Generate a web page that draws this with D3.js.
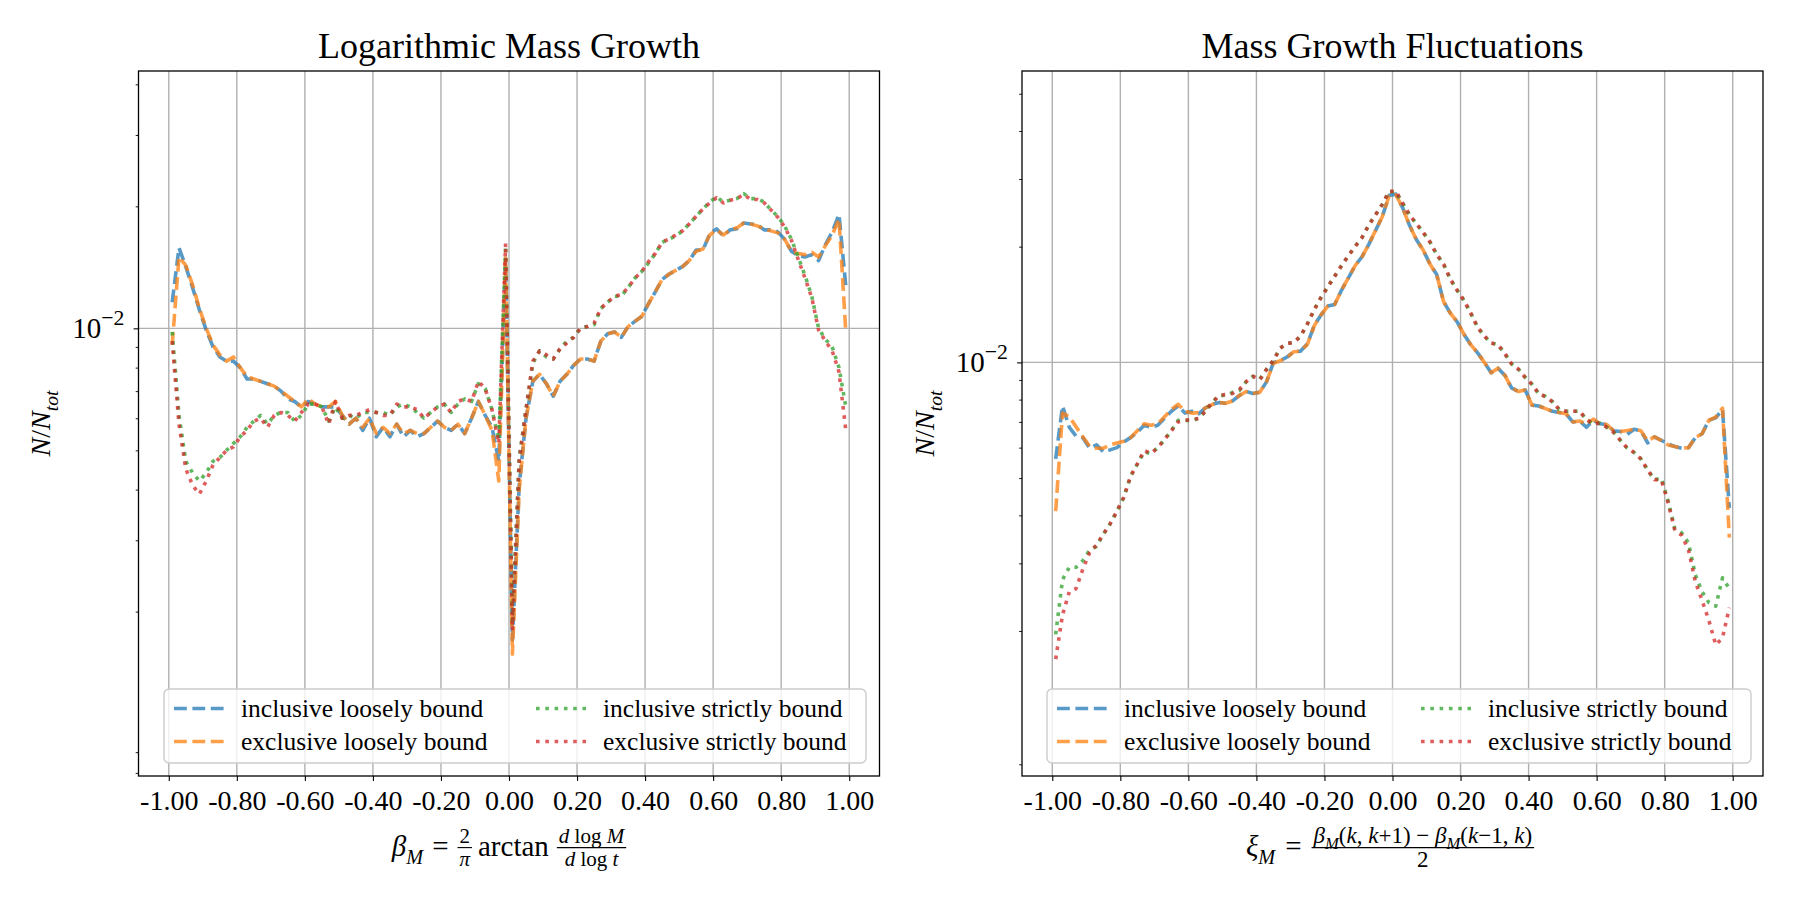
<!DOCTYPE html>
<html>
<head>
<meta charset="utf-8">
<script src="https://cdn.jsdelivr.net/npm/d3@7"></script>
<style>
  body { margin: 0; background: #fff; }
  svg text { font-family: "Liberation Serif", "DejaVu Serif", serif; fill: #000; }
</style>
</head>
<body>
<svg id="chart" width="1800" height="900"></svg>
<script>
// ---- data ----
const bins = [
  -0.99, -0.97, -0.95, -0.93, -0.91, -0.89, -0.87, -0.85, -0.83, -0.81,
  -0.79, -0.77, -0.75, -0.73, -0.71, -0.69, -0.67, -0.65, -0.63, -0.61,
  -0.59, -0.57, -0.55, -0.53, -0.51, -0.49, -0.47, -0.45, -0.43, -0.41,
  -0.39, -0.37, -0.35, -0.33, -0.31, -0.29, -0.27, -0.25, -0.23, -0.21,
  -0.19, -0.17, -0.15, -0.13, -0.11, -0.09, -0.07, -0.05, -0.03, -0.01,
  0.01, 0.03, 0.05, 0.07, 0.09, 0.11, 0.13, 0.15, 0.17, 0.19,
  0.21, 0.23, 0.25, 0.27, 0.29, 0.31, 0.33, 0.35, 0.37, 0.39,
  0.41, 0.43, 0.45, 0.47, 0.49, 0.51, 0.53, 0.55, 0.57, 0.59,
  0.61, 0.63, 0.65, 0.67, 0.69, 0.71, 0.73, 0.75, 0.77, 0.79,
  0.81, 0.83, 0.85, 0.87, 0.89, 0.91, 0.93, 0.95, 0.97, 0.99
];

const seriesNames = [
  "inclusive loosely bound", "exclusive loosely bound",
  "inclusive strictly bound", "exclusive strictly bound"
];

// left panel: logarithmic mass growth
const growthInclLoose = [
  0.0116, 0.0158, 0.0142, 0.0126, 0.0111, 0.0099, 0.0090, 0.0085, 0.0083, 0.0083,
  0.0080, 0.0075, 0.0075, 0.0074, 0.0073, 0.0072, 0.0070, 0.0067, 0.0066, 0.0064,
  0.0066, 0.0065, 0.0064, 0.0064, 0.0064, 0.0061, 0.0058, 0.0060, 0.0056, 0.0060,
  0.0054, 0.0057, 0.0054, 0.0058, 0.0054, 0.0056, 0.0054, 0.0055, 0.0057, 0.0059,
  0.0057, 0.0056, 0.0058, 0.0055, 0.0060, 0.0066, 0.0061, 0.0057, 0.0047, 0.0146,
  0.0017, 0.0041, 0.0060, 0.0074, 0.0077, 0.0073, 0.0068, 0.0074, 0.0077, 0.0081,
  0.0084, 0.0084, 0.0083, 0.0093, 0.0097, 0.0098, 0.0095, 0.0101, 0.0104, 0.0107,
  0.0115, 0.0123, 0.0132, 0.0136, 0.0139, 0.0142, 0.0147, 0.0156, 0.0156, 0.0171,
  0.0176, 0.0169, 0.0175, 0.0176, 0.0182, 0.0181, 0.0180, 0.0175, 0.0175, 0.0173,
  0.0166, 0.0155, 0.0151, 0.0150, 0.0152, 0.0147, 0.0161, 0.0173, 0.0191, 0.0127
];
const growthExclLoose = [
  0.0091, 0.0150, 0.0143, 0.0128, 0.0112, 0.0100, 0.0091, 0.0086, 0.0083, 0.0085,
  0.0080, 0.0076, 0.0075, 0.0074, 0.0073, 0.0072, 0.0070, 0.0068, 0.0066, 0.0064,
  0.0067, 0.0065, 0.0064, 0.0064, 0.0066, 0.0061, 0.0058, 0.0060, 0.0057, 0.0060,
  0.0055, 0.0057, 0.0055, 0.0058, 0.0055, 0.0056, 0.0055, 0.0055, 0.0057, 0.0059,
  0.0057, 0.0056, 0.0058, 0.0055, 0.0060, 0.0066, 0.0061, 0.0056, 0.0042, 0.0149,
  0.00157, 0.0040, 0.0060, 0.0074, 0.0077, 0.0073, 0.0068, 0.0074, 0.0077, 0.0081,
  0.0084, 0.0084, 0.0083, 0.0093, 0.0097, 0.0098, 0.0095, 0.0101, 0.0104, 0.0107,
  0.0115, 0.0123, 0.0132, 0.0136, 0.0139, 0.0142, 0.0147, 0.0155, 0.0157, 0.0170,
  0.0175, 0.0170, 0.0175, 0.0177, 0.0182, 0.0181, 0.0179, 0.0176, 0.0174, 0.0172,
  0.0166, 0.0155, 0.0153, 0.0152, 0.0154, 0.0150, 0.0160, 0.0170, 0.0186, 0.0098
];
const growthInclStrict = [
  0.0098, 0.0061, 0.0047, 0.0044, 0.0042, 0.0044, 0.0047, 0.0048, 0.0050, 0.0052,
  0.0054, 0.0057, 0.0059, 0.0061, 0.0058, 0.0061, 0.0062, 0.0062, 0.0059, 0.0061,
  0.0065, 0.0065, 0.0064, 0.0059, 0.0064, 0.0060, 0.0061, 0.0060, 0.0062, 0.0062,
  0.0062, 0.0062, 0.0061, 0.0064, 0.0065, 0.0064, 0.0062, 0.0060, 0.0062, 0.0064,
  0.0065, 0.0062, 0.0065, 0.0067, 0.0066, 0.0073, 0.0071, 0.0063, 0.0053, 0.0160,
  0.0019, 0.0048, 0.0063, 0.0082, 0.0088, 0.0085, 0.0084, 0.0089, 0.0093, 0.0095,
  0.0100, 0.0101, 0.0102, 0.0112, 0.0116, 0.0120, 0.0120, 0.0126, 0.0133, 0.0138,
  0.0145, 0.0153, 0.0163, 0.0166, 0.0169, 0.0174, 0.0181, 0.0189, 0.0197, 0.0205,
  0.0211, 0.0205, 0.0207, 0.0209, 0.0215, 0.0209, 0.0209, 0.0205, 0.0196, 0.0189,
  0.0179, 0.0166, 0.0150, 0.0135, 0.0120, 0.0100, 0.0094, 0.0090, 0.0080, 0.0064
];
const growthExclStrict = [
  0.0093, 0.0058, 0.0045, 0.0041, 0.0039, 0.0042, 0.0046, 0.0048, 0.0050, 0.0051,
  0.0054, 0.0056, 0.0059, 0.0060, 0.0057, 0.0061, 0.0062, 0.0061, 0.0059, 0.0062,
  0.0065, 0.0065, 0.0064, 0.0058, 0.0066, 0.0060, 0.0061, 0.0061, 0.0062, 0.0063,
  0.0062, 0.0061, 0.0061, 0.0065, 0.0064, 0.0064, 0.0063, 0.0060, 0.0062, 0.0064,
  0.0065, 0.0062, 0.0066, 0.0067, 0.0066, 0.0074, 0.0071, 0.0063, 0.0052, 0.0162,
  0.0018, 0.0047, 0.0063, 0.0083, 0.0088, 0.0086, 0.0084, 0.0089, 0.0092, 0.0095,
  0.0100, 0.0101, 0.0103, 0.0112, 0.0116, 0.0120, 0.0121, 0.0126, 0.0133, 0.0138,
  0.0146, 0.0153, 0.0163, 0.0166, 0.0170, 0.0174, 0.0181, 0.0189, 0.0197, 0.0204,
  0.0210, 0.0204, 0.0207, 0.0209, 0.0214, 0.0208, 0.0208, 0.0204, 0.0196, 0.0188,
  0.0178, 0.0165, 0.0148, 0.0133, 0.0119, 0.0099, 0.0093, 0.0088, 0.0078, 0.0056
];

// right panel: mass growth fluctuations
const flucInclLoose = [
  0.00561, 0.00770, 0.00678, 0.00643, 0.00637, 0.00598, 0.00610, 0.00585, 0.00592, 0.00600,
  0.00621, 0.00637, 0.00658, 0.00686, 0.00678, 0.00686, 0.00715, 0.00746, 0.00770, 0.00738,
  0.00746, 0.00735, 0.00761, 0.00777, 0.00786, 0.00783, 0.00794, 0.00820, 0.00840, 0.00830,
  0.00836, 0.00891, 0.01000, 0.01010, 0.01033, 0.01066, 0.01070, 0.01118, 0.01248, 0.01329,
  0.01401, 0.01414, 0.01540, 0.01657, 0.01784, 0.01880, 0.02025, 0.02202, 0.02394, 0.02720,
  0.02740, 0.02523, 0.02273, 0.02088, 0.01961, 0.01803, 0.01692, 0.01440, 0.01343, 0.01275,
  0.01184, 0.01112, 0.01059, 0.01000, 0.00940, 0.00966, 0.00926, 0.00858, 0.00840, 0.00848,
  0.00774, 0.00770, 0.00758, 0.00746, 0.00741, 0.00735, 0.00700, 0.00704, 0.00678, 0.00707,
  0.00692, 0.00689, 0.00664, 0.00661, 0.00650, 0.00670, 0.00664, 0.00617, 0.00640, 0.00627,
  0.00613, 0.00604, 0.00598, 0.00600, 0.00637, 0.00652, 0.00707, 0.00717, 0.00754, 0.00418
];
const flucExclLoose = [
  0.00410, 0.00738, 0.00722, 0.00680, 0.00640, 0.00605, 0.00598, 0.00598, 0.00610, 0.00617,
  0.00623, 0.00637, 0.00664, 0.00692, 0.00686, 0.00692, 0.00722, 0.00754, 0.00778, 0.00746,
  0.00738, 0.00740, 0.00761, 0.00777, 0.00786, 0.00783, 0.00794, 0.00820, 0.00840, 0.00830,
  0.00836, 0.00891, 0.00995, 0.01010, 0.01030, 0.01066, 0.01070, 0.01115, 0.01245, 0.01329,
  0.01401, 0.01414, 0.01540, 0.01657, 0.01784, 0.01880, 0.02025, 0.02202, 0.02394, 0.02710,
  0.02730, 0.02523, 0.02273, 0.02088, 0.01961, 0.01803, 0.01692, 0.01440, 0.01343, 0.01275,
  0.01184, 0.01112, 0.01059, 0.01000, 0.00940, 0.00966, 0.00926, 0.00858, 0.00840, 0.00848,
  0.00774, 0.00770, 0.00758, 0.00746, 0.00741, 0.00735, 0.00700, 0.00704, 0.00690, 0.00712,
  0.00692, 0.00689, 0.00664, 0.00661, 0.00665, 0.00670, 0.00664, 0.00625, 0.00640, 0.00627,
  0.00610, 0.00604, 0.00598, 0.00600, 0.00637, 0.00652, 0.00707, 0.00720, 0.00760, 0.00350
];
const flucInclStrict = [
  0.00196, 0.00272, 0.00293, 0.00293, 0.00305, 0.00325, 0.00332, 0.00357, 0.00380, 0.00410,
  0.00445, 0.00505, 0.00544, 0.00585, 0.00579, 0.00600, 0.00630, 0.00664, 0.00707, 0.00707,
  0.00704, 0.00715, 0.00746, 0.00786, 0.00820, 0.00820, 0.00836, 0.00845, 0.00891, 0.00920,
  0.00905, 0.00960, 0.01012, 0.01089, 0.01120, 0.01126, 0.01171, 0.01260, 0.01371, 0.01476,
  0.01573, 0.01675, 0.01784, 0.01892, 0.02003, 0.02110, 0.02273, 0.02420, 0.02577, 0.02786,
  0.02774, 0.02594, 0.02420, 0.02296, 0.02180, 0.02059, 0.01908, 0.01803, 0.01647, 0.01540,
  0.01451, 0.01343, 0.01235, 0.01171, 0.01123, 0.01112, 0.01055, 0.00991, 0.00960, 0.00914,
  0.00877, 0.00828, 0.00815, 0.00790, 0.00754, 0.00746, 0.00746, 0.00746, 0.00710, 0.00692,
  0.00695, 0.00678, 0.00658, 0.00627, 0.00598, 0.00583, 0.00561, 0.00525, 0.00495, 0.00500,
  0.00436, 0.00369, 0.00360, 0.00339, 0.00280, 0.00253, 0.00237, 0.00232, 0.00275, 0.00258
];
const flucExclStrict = [
  0.00169, 0.00220, 0.00253, 0.00258, 0.00290, 0.00320, 0.00335, 0.00357, 0.00380, 0.00410,
  0.00445, 0.00505, 0.00544, 0.00590, 0.00579, 0.00600, 0.00630, 0.00664, 0.00700, 0.00707,
  0.00710, 0.00715, 0.00746, 0.00786, 0.00820, 0.00825, 0.00830, 0.00850, 0.00891, 0.00920,
  0.00900, 0.00960, 0.01012, 0.01089, 0.01120, 0.01126, 0.01171, 0.01260, 0.01371, 0.01476,
  0.01573, 0.01675, 0.01784, 0.01892, 0.02003, 0.02110, 0.02273, 0.02420, 0.02577, 0.02786,
  0.02790, 0.02594, 0.02420, 0.02296, 0.02180, 0.02059, 0.01908, 0.01803, 0.01647, 0.01540,
  0.01451, 0.01343, 0.01235, 0.01171, 0.01123, 0.01112, 0.01055, 0.00991, 0.00960, 0.00914,
  0.00877, 0.00828, 0.00815, 0.00790, 0.00754, 0.00746, 0.00746, 0.00746, 0.00710, 0.00692,
  0.00695, 0.00678, 0.00658, 0.00627, 0.00598, 0.00583, 0.00561, 0.00525, 0.00495, 0.00495,
  0.00432, 0.00365, 0.00355, 0.00325, 0.00269, 0.00240, 0.00213, 0.00184, 0.00192, 0.00230
];

// ticks
const xTicks = [-1, -0.8, -0.6, -0.4, -0.2, 0, 0.2, 0.4, 0.6, 0.8, 1];
const xTickLabels = ["-1.00", "-0.80", "-0.60", "-0.40", "-0.20", "0.00", "0.20", "0.40", "0.60", "0.80", "1.00"];
const yMajorTicks = [0.01];
const yMinorTicks = [0.0008, 0.0009, 0.002, 0.003, 0.004, 0.005, 0.006, 0.007, 0.008, 0.009, 0.02, 0.03, 0.04, 0.05];

// ---- styling ----
const colors = ["#1f77b4", "#ff7f0e", "#2ca02c", "#d62728"];
const dashes = ["12.8,5.6", "12.8,5.6", "3.6,5.7", "3.6,5.7"];
const lineWidth = 3.6;
const lineAlpha = 0.75;

const svg = d3.select("#chart");

// small helper: a text element built from math-like pieces
function richText(parent, parts, size) {
  const t = parent.append("text").attr("font-size", size);
  let shift = 0;
  parts.forEach(p => {
    const target = p.sub ? size * 0.28 : p.sup ? -size * 0.45 : 0;
    t.append("tspan")
      .text(p.s)
      .attr("dy", target - shift)
      .attr("font-size", (p.sub || p.sup) ? size * (p.small || 0.7) : size)
      .attr("font-style", p.it ? "italic" : "normal");
    shift = target;
  });
  return t;
}

// lay out a row of text pieces and fractions, centred on cx, baseline at by
function mathLabel(cx, by, boxes, size) {
  const g = svg.append("g");
  let x = 0;
  boxes.forEach(b => {
    if (b.gap) { x += b.gap; return; }
    if (b.frac) {
      const fs = b.size || size * 0.72;
      const num = richText(g, b.num, fs).attr("text-anchor", "middle");
      const den = richText(g, b.den, fs).attr("text-anchor", "middle");
      const w = Math.max(num.node().getComputedTextLength(), den.node().getComputedTextLength()) + 4;
      const barY = -size * 0.29;
      num.attr("x", x + w / 2).attr("y", barY - 5);
      den.attr("x", x + w / 2).attr("y", barY + fs * 0.72 + 3);
      g.append("line").attr("x1", x).attr("x2", x + w)
        .attr("y1", barY).attr("y2", barY)
        .attr("stroke", "#000").attr("stroke-width", 1.1);
      x += w;
      return;
    }
    const t = richText(g, b.parts, size).attr("x", x).attr("y", 0);
    x += t.node().getComputedTextLength();
  });
  g.attr("transform", `translate(${cx - x / 2},${by})`);
}

function drawPanel(opt) {
  const { x0, x1, y0, y1, yDomain, series, title } = opt;

  const x = d3.scaleLinear().domain([-1.089, 1.089]).range([x0, x1]);
  const y = d3.scaleLog().domain(yDomain).range([y1, y0]);

  const g = svg.append("g");
  const clipId = "clip" + Math.round(x0);
  g.append("clipPath").attr("id", clipId)
    .append("rect").attr("x", x0).attr("y", y0).attr("width", x1 - x0).attr("height", y1 - y0);

  // grid
  g.selectAll(".vgrid").data(xTicks).enter().append("line")
    .attr("x1", d => x(d)).attr("x2", d => x(d))
    .attr("y1", y0).attr("y2", y1)
    .attr("stroke", "#b0b0b0").attr("stroke-width", 1.4);
  g.selectAll(".hgrid").data(yMajorTicks).enter().append("line")
    .attr("x1", x0).attr("x2", x1)
    .attr("y1", d => y(d)).attr("y2", d => y(d))
    .attr("stroke", "#b0b0b0").attr("stroke-width", 1.4);

  // lines
  const line = d3.line().x((d, i) => x(bins[i])).y(d => y(d));
  const lg = g.append("g").attr("clip-path", `url(#${clipId})`);
  series.forEach((s, k) => {
    lg.append("path")
      .datum(s)
      .attr("d", line)
      .attr("fill", "none")
      .attr("stroke", colors[k])
      .attr("stroke-opacity", lineAlpha)
      .attr("stroke-width", lineWidth)
      .attr("stroke-dasharray", dashes[k])
      .attr("stroke-linejoin", "round")
      .attr("stroke-linecap", "butt");
  });

  // x axis
  const xa = g.append("g")
    .attr("transform", `translate(0,${y1})`)
    .call(d3.axisBottom(x).tickValues(xTicks)
      .tickFormat((d, i) => xTickLabels[i]).tickSize(4.9).tickPadding(5));
  xa.select(".domain").remove();
  xa.selectAll("line").attr("stroke", "#000").attr("stroke-width", 1.1);
  xa.selectAll("text").attr("font-size", 28).attr("font-family", "Liberation Serif").attr("dy", "0.85em");

  // y axis minor and major ticks
  const yMinor = g.append("g").attr("transform", `translate(${x0},0)`)
    .call(d3.axisLeft(y).tickValues(yMinorTicks.filter(v => v >= yDomain[0] && v <= yDomain[1]))
      .tickFormat("").tickSize(2.8));
  yMinor.select(".domain").remove();
  yMinor.selectAll("line").attr("stroke", "#000").attr("stroke-width", 0.9);

  const yMajor = g.append("g").attr("transform", `translate(${x0},0)`)
    .call(d3.axisLeft(y).tickValues(yMajorTicks).tickFormat("").tickSize(4.9));
  yMajor.select(".domain").remove();
  yMajor.selectAll("line").attr("stroke", "#000").attr("stroke-width", 1.1);

  yMajorTicks.forEach(v => {
    richText(g, [{ s: "10" }, { s: "\u22122", sup: true, small: 0.75 }], 29)
      .attr("text-anchor", "end")
      .attr("x", x0 - 14)
      .attr("y", y(v) + 10);
  });

  // spines
  g.append("rect")
    .attr("x", x0).attr("y", y0).attr("width", x1 - x0).attr("height", y1 - y0)
    .attr("fill", "none").attr("stroke", "#000").attr("stroke-width", 1.3);

  // title
  g.append("text")
    .attr("x", (x0 + x1) / 2).attr("y", 58)
    .attr("text-anchor", "middle").attr("font-size", 36)
    .text(title);

  // y label
  richText(g, [{ s: "N", it: true }, { s: "/" }, { s: "N", it: true }, { s: "tot", it: true, sub: true }], 28)
    .attr("text-anchor", "middle")
    .attr("transform", `translate(${opt.ylabelX},${(y0 + y1) / 2}) rotate(-90)`);

  // legend
  const lx = opt.legend.x, ly = opt.legend.y;
  const leg = g.append("g").attr("transform", `translate(${lx},${ly})`);
  leg.append("rect")
    .attr("width", opt.legend.w).attr("height", 74)
    .attr("rx", 5).attr("ry", 5)
    .attr("fill", "#fff").attr("fill-opacity", 0.8)
    .attr("stroke", "#cccccc").attr("stroke-width", 1.4);
  seriesNames.forEach((name, k) => {
    const col = Math.floor(k / 2), row = k % 2;
    const hx = col === 0 ? 10 : opt.legend.col2;
    const ry = 19.5 + row * 33;
    leg.append("line")
      .attr("x1", hx).attr("x2", hx + 50)
      .attr("y1", ry).attr("y2", ry)
      .attr("stroke", colors[k]).attr("stroke-opacity", lineAlpha)
      .attr("stroke-width", lineWidth).attr("stroke-dasharray", dashes[k]);
    leg.append("text")
      .attr("x", hx + 67).attr("y", ry + 8)
      .attr("font-size", 25.5)
      .text(name);
  });
}

drawPanel({
  x0: 138.5, x1: 879.5, y0: 71, y1: 776,
  yDomain: [7.86e-4, 4.315e-2],
  series: [growthInclLoose, growthExclLoose, growthInclStrict, growthExclStrict],
  title: "Logarithmic Mass Growth",
  ylabelX: 50,
  legend: { x: 164, y: 689, w: 702, col2: 372 }
});

drawPanel({
  x0: 1022, x1: 1763, y0: 71, y1: 776,
  yDomain: [8.39e-4, 5.73e-2],
  series: [flucInclLoose, flucExclLoose, flucInclStrict, flucExclStrict],
  title: "Mass Growth Fluctuations",
  ylabelX: 934,
  legend: { x: 1047, y: 689, w: 704, col2: 374 }
});

// x labels (math)
mathLabel(509, 856, [
  { parts: [{ s: "\u03b2", it: true }, { s: "M", it: true, sub: true }] },
  { gap: 9 },
  { parts: [{ s: "=" }] },
  { gap: 9 },
  { frac: true, num: [{ s: "2" }], den: [{ s: "\u03c0", it: true }] },
  { gap: 6 },
  { parts: [{ s: "arctan" }] },
  { gap: 8 },
  { frac: true, size: 21,
    num: [{ s: "d", it: true }, { s: " log " }, { s: "M", it: true }],
    den: [{ s: "d", it: true }, { s: " log " }, { s: "t", it: true }] }
], 29);

mathLabel(1390, 856, [
  { parts: [{ s: "\u03be", it: true }, { s: "M", it: true, sub: true }] },
  { gap: 10 },
  { parts: [{ s: "=" }] },
  { gap: 10 },
  { frac: true, size: 23,
    num: [{ s: "\u03b2", it: true }, { s: "M", it: true, sub: true, small: 0.72 },
          { s: "(" }, { s: "k", it: true }, { s: ", " }, { s: "k", it: true }, { s: "+1) \u2212 " },
          { s: "\u03b2", it: true }, { s: "M", it: true, sub: true, small: 0.72 },
          { s: "(" }, { s: "k", it: true }, { s: "\u22121, " }, { s: "k", it: true }, { s: ")" }],
    den: [{ s: "2" }] }
], 29);
</script>
</body>
</html>
